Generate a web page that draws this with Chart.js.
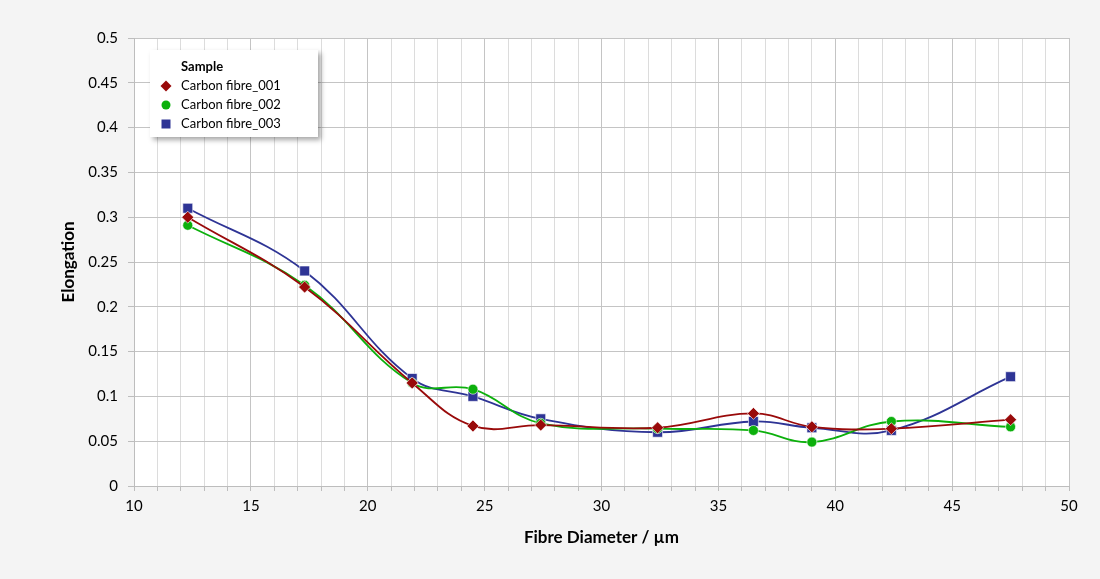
<!DOCTYPE html>
<html>
<head>
<meta charset="utf-8">
<script src="https://cdn.jsdelivr.net/npm/chart.js@4.4.1/dist/chart.umd.min.js"></script>
<style>
  html, body { margin: 0; padding: 0; background: #f4f4f4; }
  #wrap { width: 1100px; height: 579px; position: relative; }
</style>
</head>
<body>
<div id="wrap"><canvas id="monChart" width="1100" height="579"></canvas></div>
<script>
// donnees
const legendTitle = 'Sample';
const seriesNames = ['Carbon fibre_001', 'Carbon fibre_002', 'Carbon fibre_003'];
const diametres = [12.3, 17.3, 21.9, 24.5, 27.4, 32.4, 36.5, 39.0, 42.4, 47.5];
const elong001 = [0.300, 0.222, 0.115, 0.067, 0.068, 0.065, 0.081, 0.066, 0.064, 0.074];
const elong002 = [0.291, 0.224, 0.115, 0.108, 0.070, 0.064, 0.062, 0.049, 0.072, 0.066];
const elong003 = [0.310, 0.240, 0.120, 0.100, 0.075, 0.060, 0.072, 0.065, 0.062, 0.122];

const couleurs = ['#990a0a', '#0cb00c', '#2e3495'];
const styles = ['rectRot', 'circle', 'rect'];
const tailles = [6, 5, 7];

function toPoints(vals) {
    return diametres.map((d, i) => ({ x: d, y: vals[i] }));
}

const fontFamily = 'Lato, "Open Sans", sans-serif';

// fond blanc de la zone de trace
const plotBg = {
    id: 'plotBg',
    beforeDraw(chart) {
        const { ctx, chartArea } = chart;
        ctx.save();
        ctx.fillStyle = '#ffffff';
        ctx.fillRect(chartArea.left, chartArea.top, chartArea.right - chartArea.left, chartArea.bottom - chartArea.top);
        ctx.restore();
    }
};

// legende dans la zone de trace, avec ombre
const legendeBox = {
    id: 'legendeBox',
    afterDraw(chart) {
        const ctx = chart.ctx;
        const x = 150, y = 50, w = 168, h = 87;
        ctx.save();
        ctx.shadowColor = 'rgba(0,0,0,0.35)';
        ctx.shadowOffsetX = 3;
        ctx.shadowOffsetY = 3;
        ctx.shadowBlur = 5;
        ctx.fillStyle = '#ffffff';
        ctx.fillRect(x, y, w, h);
        ctx.restore();

        ctx.save();
        ctx.fillStyle = '#000';
        ctx.textBaseline = 'middle';
        ctx.font = 'bold 13px ' + fontFamily;
        ctx.fillText(legendTitle, 181, 67);
        ctx.font = '13px ' + fontFamily;
        seriesNames.forEach((name, i) => {
            const yy = 86 + i * 19;
            ctx.fillStyle = couleurs[i];
            const mx = 166;
            ctx.beginPath();
            if (styles[i] === 'rectRot') {
                ctx.moveTo(mx, yy - 5.5); ctx.lineTo(mx + 5.5, yy); ctx.lineTo(mx, yy + 5.5); ctx.lineTo(mx - 5.5, yy);
                ctx.closePath();
            } else if (styles[i] === 'circle') {
                ctx.arc(mx, yy, 4.5, 0, Math.PI * 2);
            } else {
                ctx.rect(mx - 4.5, yy - 4.5, 9, 9);
            }
            ctx.fill();
            ctx.fillStyle = '#000';
            ctx.fillText(name, 181, yy);
        });
        ctx.restore();
    }
};

function afficherChart() {
    const ctx = document.getElementById('monChart').getContext('2d');
    const datasets = [elong001, elong002, elong003].map((vals, i) => ({
        label: seriesNames[i],
        data: toPoints(vals),
        borderColor: couleurs[i],
        backgroundColor: couleurs[i],
        borderWidth: 1.8,
        tension: 0.4,
        pointStyle: styles[i],
        pointRadius: tailles[i],
        pointBorderColor: 'rgba(255,255,255,0.6)',
        pointBorderWidth: 1,
        showLine: true,
        fill: false
    }));

    new Chart(ctx, {
        type: 'scatter',
        data: { datasets },
        options: {
            responsive: false,
            animation: false,
            layout: { padding: { left: 0, top: 38, right: 31, bottom: 30 } },
            plugins: {
                legend: { display: false },
                tooltip: { enabled: false }
            },
            scales: {
                x: {
                    type: 'linear',
                    min: 10,
                    max: 50,
                    afterFit(scale) { scale.height = 63; },
                    ticks: {
                        stepSize: 1,
                        autoSkip: false,
                        maxTicksLimit: 100,
                        maxRotation: 0,
                        padding: 6,
                        color: '#000',
                        font: { family: fontFamily, size: 15 },
                        callback: v => (v % 5 === 0 ? v : '')
                    },
                    grid: {
                        color: c => (c.tick && c.tick.value % 5 === 0 ? '#c4c4c4' : '#dcdcdc'),
                        tickLength: 5,
                        tickColor: '#bdbdbd'
                    },
                    border: { color: '#bdbdbd' },
                    title: {
                        display: true,
                        text: 'Fibre Diameter / µm',
                        color: '#000',
                        font: { family: fontFamily, size: 17, weight: 'bold' },
                        padding: { top: 0, bottom: 1 }
                    }
                },
                y: {
                    min: 0,
                    max: 0.5,
                    afterFit(scale) { scale.width = 134; },
                    ticks: {
                        stepSize: 0.05,
                        padding: 10,
                        color: '#000',
                        font: { family: fontFamily, size: 15 },
                        callback: v => String(Math.round(v * 100) / 100)
                    },
                    grid: {
                        color: '#c4c4c4',
                        tickLength: 6,
                        tickColor: '#bdbdbd'
                    },
                    border: { color: '#bdbdbd' },
                    title: {
                        display: true,
                        text: 'Elongation',
                        color: '#000',
                        font: { family: fontFamily, size: 17, weight: 'bold' },
                        padding: { top: 58, bottom: 0 }
                    }
                }
            }
        },
        plugins: [plotBg, legendeBox]
    });
}

document.addEventListener('DOMContentLoaded', () => {
    afficherChart();
});
</script>
</body>
</html>
